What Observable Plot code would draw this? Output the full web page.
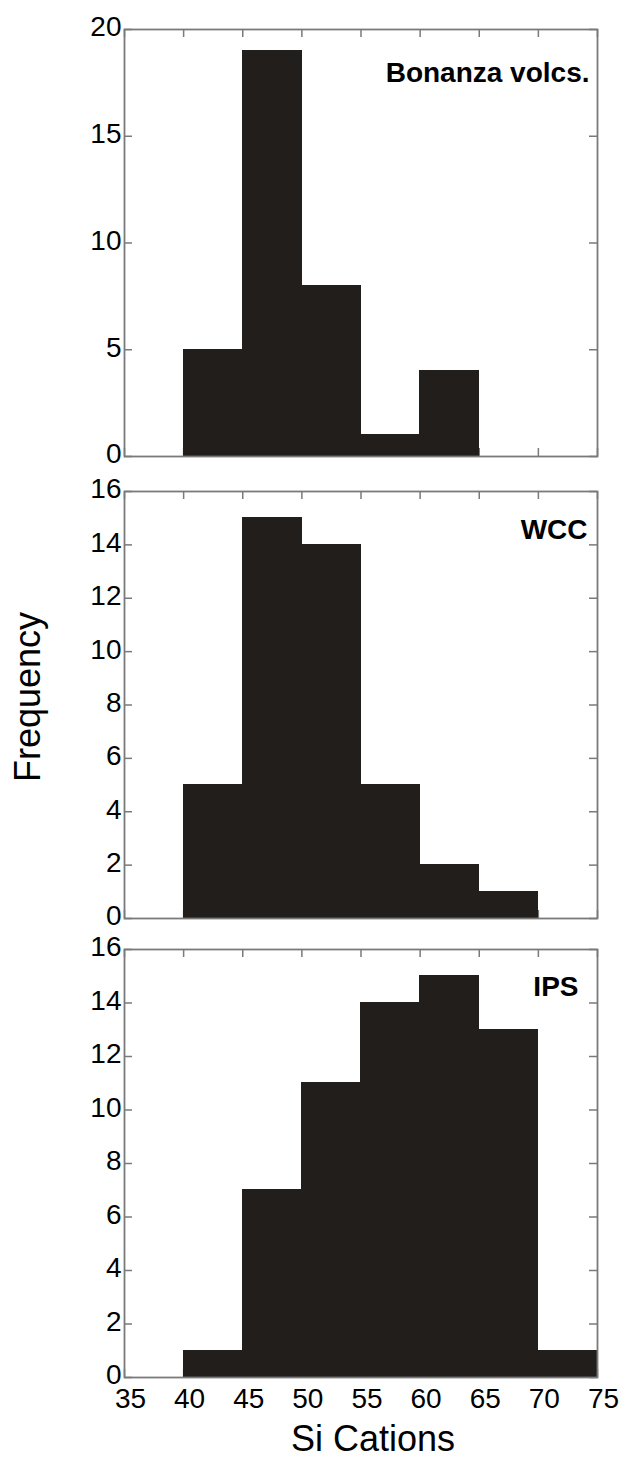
<!DOCTYPE html>
<html>
<head>
<meta charset="utf-8">
<script src="https://cdn.jsdelivr.net/npm/d3@7"></script>
<script src="https://cdn.jsdelivr.net/npm/@observablehq/plot@0.6"></script>
<style>
  html, body { margin: 0; padding: 0; background: #fff; overflow: hidden; }
  #chart { width: 631px; height: 1460px; }
  #chart svg { display: block; overflow: visible; }
</style>
</head>
<body>
<div id="chart"></div>
<script>
// ---- data ----
const binStarts = [40, 45, 50, 55, 60, 65, 70];
const binWidth = 5;
const bonanzaCounts = [5, 19, 8, 1, 4, 0, 0];
const wccCounts = [5, 15, 14, 5, 2, 1, 0];
const ipsCounts = [1, 7, 11, 14, 15, 13, 1];
const panelLabels = ["Bonanza volcs.", "WCC", "IPS"];
const xTicks = [35, 40, 45, 50, 55, 60, 65, 70, 75];
const xDomain = [35, 75];
const yTicksBonanza = [0, 5, 10, 15, 20];
const yTicksOther = [0, 2, 4, 6, 8, 10, 12, 14, 16];
const xTitle = "Si Cations";
const yTitle = "Frequency";

const FONT = "'Liberation Sans', Arial, Helvetica, sans-serif";
const BAR = "#221e1c";
const GREY = "#7a7a7a";
const W = 631, ML = 124, MR = 34;
const PW = W - ML - MR;

function panel(counts, yTicks, label, opt) {
  const data = binStarts.map((s, i) => ({x1: s, x2: s + binWidth, count: counts[i]}));
  const ymax = yTicks[yTicks.length - 1];
  const PH = opt.height - opt.marginTop - opt.marginBottom;
  const tickLen = 8;
  const marks = [
    Plot.tickY(yTicks, {y: d => d, stroke: GREY, strokeWidth: 1.5, insetRight: PW - tickLen}),
    Plot.tickY(yTicks, {y: d => d, stroke: GREY, strokeWidth: 1.5, insetLeft: PW - tickLen}),
    Plot.tickX(xTicks, {x: d => d, stroke: GREY, strokeWidth: 1.5, insetBottom: PH - tickLen}),
    Plot.tickX(xTicks, {x: d => d, stroke: GREY, strokeWidth: 1.5, insetTop: PH - tickLen}),
    Plot.rectY(data, {x1: "x1", x2: "x2", y: "count", fill: BAR, stroke: BAR, strokeWidth: 1.2, inset: 0, shapeRendering: "crispEdges"}),
    Plot.frame({stroke: GREY, strokeWidth: 1.8}),
    Plot.axisY({ticks: yTicks, tickSize: 0, tickPadding: 3, fontSize: 28, label: null, dy: -2}),
    Plot.text([label], {frameAnchor: "top-right", lineAnchor: "bottom", dx: opt.labelDx, dy: opt.labelDy,
      fontSize: 28, fontWeight: "bold", fill: "#000", textAnchor: "end"})
  ];
  if (opt.xAxis) {
    marks.push(Plot.axisX({ticks: xTicks, tickSize: 0, tickPadding: 11, fontSize: 28, label: null, dx: 6}));
    marks.push(Plot.text([xTitle], {frameAnchor: "bottom", lineAnchor: "middle", textAnchor: "middle", dx: 12, dy: 62, fontSize: 36, fill: "#000"}));
  }
  if (opt.yTitle) {
    marks.push(Plot.text([yTitle], {frameAnchor: "left", rotate: -90, lineAnchor: "middle", textAnchor: "middle", dx: -96, dy: -8, fontSize: 36, fill: "#000"}));
  }
  return Plot.plot({
    width: W, height: opt.height,
    marginLeft: ML, marginRight: MR, marginTop: opt.marginTop, marginBottom: opt.marginBottom,
    x: {domain: xDomain, axis: null},
    y: {domain: [0, ymax], axis: null},
    style: {fontFamily: FONT, fontSize: "28px", color: "#000", background: "transparent", overflow: "visible"},
    marks
  });
}

const chart = document.getElementById("chart");
chart.append(panel(bonanzaCounts, yTicksBonanza, panelLabels[0],
  {height: 474, marginTop: 29, marginBottom: 18, labelDx: -8, labelDy: 52}));
chart.append(panel(wccCounts, yTicksOther, panelLabels[1],
  {height: 460, marginTop: 17, marginBottom: 16, labelDx: -10, labelDy: 47, yTitle: true}));
chart.append(panel(ipsCounts, yTicksOther, panelLabels[2],
  {height: 526, marginTop: 15, marginBottom: 83, labelDx: -19, labelDy: 46, xAxis: true}));
</script>
</body>
</html>
